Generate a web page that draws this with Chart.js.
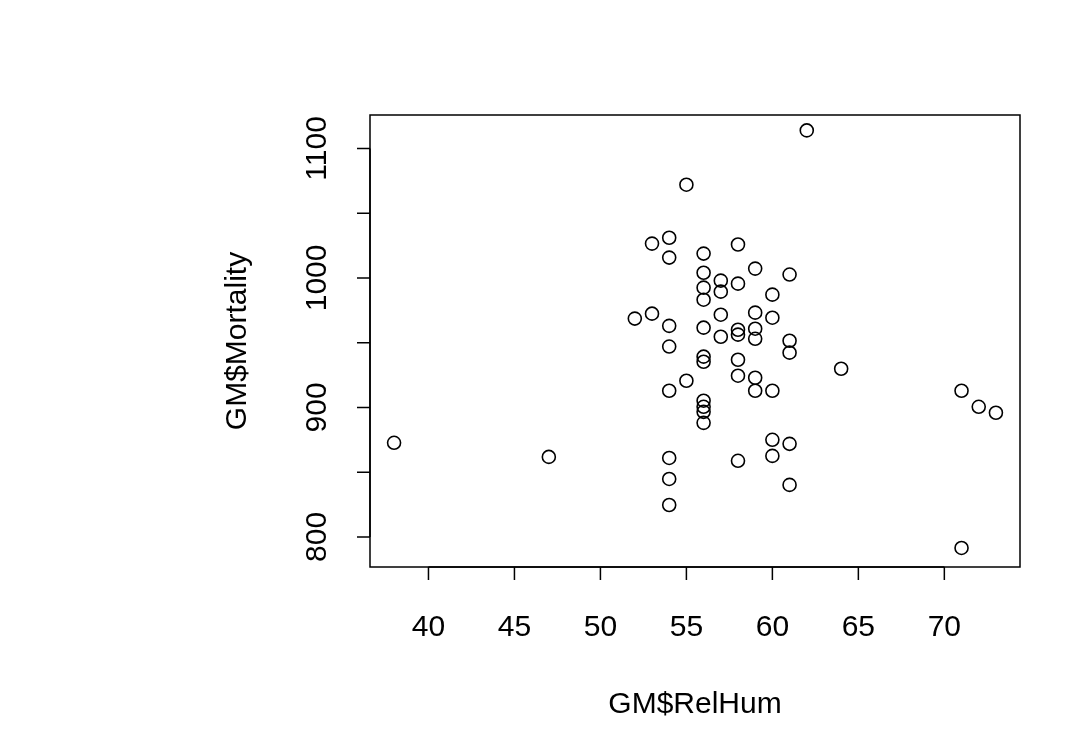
<!DOCTYPE html>
<html><head><script src="https://cdn.jsdelivr.net/npm/chart.js@4"></script>
<style>body{margin:0;background:#fff}#c{display:block}</style></head>
<body><canvas id="c" width="1066" height="748"></canvas>
<script>
const relHum=[38,47,52,53,53,54,54,54,54,54,54,54,54,55,55,56,56,56,56,56,56,56,56,56,56,56,57,57,57,57,58,58,58,58,58,58,58,59,59,59,59,59,59,60,60,60,60,60,61,61,61,61,61,62,64,71,71,72,73];
const mortality=[872.7,861.8,968.6,972.4,1026.5,1031,1015.7,963,947,912.9,861,844.8,824.7,1072,920.6,1018.8,1004,992.5,983.2,961.6,939.2,935.3,905.2,900.5,896.6,888.1,997.9,989.4,971.6,954.6,1025.8,995.6,960,956.2,936.8,924.5,858.8,1007.2,973.2,960.8,953,922.9,912.9,987.1,969.3,912.9,875,862.6,1002.6,951.5,942.3,871.9,840.2,1113.9,929.9,912.9,791.5,900.5,895.9];
const xTicks=[40,45,50,55,60,65,70];
const yTicks=[800,900,1000,1100];
const yMinor=[850,950,1050];
const xTitle="GM$RelHum", yTitle="GM$Mortality";
const pts=relHum.map((x,i)=>({x:x,y:mortality[i]}));
const font='30px "Liberation Sans", Arial, sans-serif';
const axesPlugin={id:'axes',afterDraw(ch){
 const c=ch.ctx,a=ch.chartArea,xs=ch.scales.x,ys=ch.scales.y;
 c.save();c.strokeStyle='#000';c.lineWidth=1.5;c.fillStyle='#000';
 c.strokeRect(a.left,a.top,a.right-a.left,a.bottom-a.top);
 const ay=a.bottom, ax=a.left;
 c.beginPath();c.moveTo(xs.getPixelForValue(xTicks[0]),ay);c.lineTo(xs.getPixelForValue(xTicks[xTicks.length-1]),ay);
 xTicks.forEach(v=>{const p=xs.getPixelForValue(v);c.moveTo(p,ay);c.lineTo(p,ay+13);});
 c.moveTo(ax,ys.getPixelForValue(yTicks[0]));c.lineTo(ax,ys.getPixelForValue(yTicks[yTicks.length-1]));
 yTicks.concat(yMinor).forEach(v=>{const p=ys.getPixelForValue(v);c.moveTo(ax,p);c.lineTo(ax-13,p);});
 c.stroke();
 c.font=font;c.textAlign='center';c.textBaseline='middle';
 xTicks.forEach(v=>c.fillText(String(v),xs.getPixelForValue(v),628));
 yTicks.forEach(v=>{c.save();c.translate(318,ys.getPixelForValue(v));c.rotate(-Math.PI/2);c.fillText(String(v),0,0);c.restore();});
 c.fillText(xTitle,(a.left+a.right)/2,705);
 c.save();c.translate(238,(a.top+a.bottom)/2);c.rotate(-Math.PI/2);c.fillText(yTitle,0,0);c.restore();
 c.restore();}};
new Chart(document.getElementById('c'),{type:'scatter',
 data:{datasets:[{data:pts,pointRadius:6.5,pointBorderWidth:1.6,pointBorderColor:'#000',pointBackgroundColor:'rgba(0,0,0,0)'}]},
 options:{responsive:false,animation:false,devicePixelRatio:1,
  layout:{padding:{top:115,right:46,left:0,bottom:0}},
  plugins:{legend:{display:false},tooltip:{enabled:false}},
  scales:{
   x:{type:'linear',min:36.6,max:74.4,ticks:{display:false},grid:{display:false},border:{display:false},afterFit(s){s.height=181;}},
   y:{type:'linear',min:776.8,max:1125.8,ticks:{display:false},grid:{display:false},border:{display:false},afterFit(s){s.width=370;}}
  }},
 plugins:[axesPlugin]});
</script></body></html>
